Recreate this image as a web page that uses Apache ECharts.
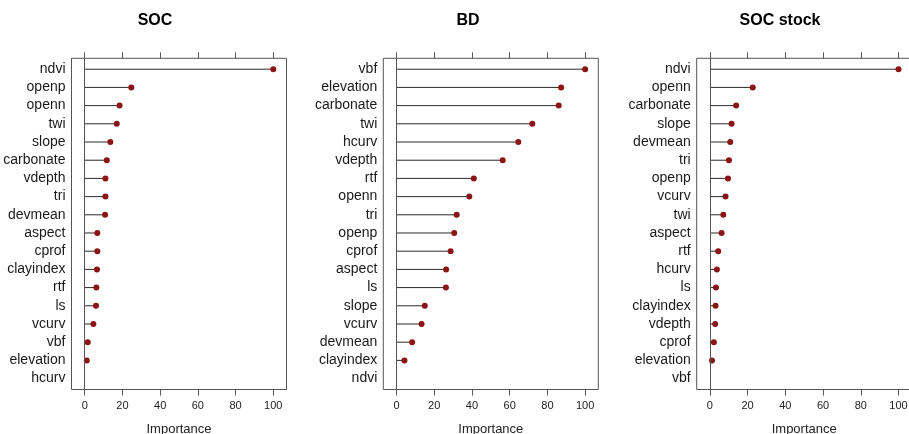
<!DOCTYPE html>
<html>
<head>
<meta charset="utf-8">
<script src="https://cdn.jsdelivr.net/npm/echarts@6/dist/echarts.min.js"></script>
<style>
html,body{margin:0;padding:0;background:#fff;}
#chart{width:909px;height:434px;}
</style>
</head>
<body>
<div id="chart"></div>
<script>
// ---- data ----
const panelTitles = ['SOC', 'BD', 'SOC stock'];
const socCats = ['ndvi','openp','openn','twi','slope','carbonate','vdepth','tri','devmean','aspect','cprof','clayindex','rtf','ls','vcurv','vbf','elevation','hcurv'];
const socVals = [100,24.7,18.5,17,13.6,11.7,11,11,10.8,6.7,6.7,6.5,6.2,6,4.6,1.6,1.1,null];
const bdCats = ['vbf','elevation','carbonate','twi','hcurv','vdepth','rtf','openn','tri','openp','cprof','aspect','ls','slope','vcurv','devmean','clayindex','ndvi'];
const bdVals = [100,87.3,86,72,64.6,56.3,41,38.6,31.9,30.6,28.7,26.3,26.2,15,13.3,8.3,4.2,null];
const stockCats = ['ndvi','openn','carbonate','slope','devmean','tri','openp','vcurv','twi','aspect','rtf','hcurv','ls','clayindex','vdepth','cprof','elevation','vbf'];
const stockVals = [100,22.7,13.9,11.5,10.8,10.1,9.6,8.3,7.1,6.2,4.4,3.7,3.2,3.0,2.8,2.1,1.1,null];
const xTicks = [0,20,40,60,80,100];
const xAxisTitle = 'Importance';

// ---- layout ----
const FONT = 'Liberation Sans, Arial, sans-serif';
const panels = [
  {cats: socCats, vals: socVals, left: 71.5, titleX: 150},
  {cats: bdCats, vals: bdVals, left: 383.3, titleX: 463},
  {cats: stockCats, vals: stockVals, left: 696.7, titleX: 775}
];
const GRID_W = 215, GRID_TOP = 58.3, GRID_H = 331.2;
const DOT_COLOR = '#8b1414';

const option = {
  animation: false,
  backgroundColor: '#fff',
  title: [], grid: [], xAxis: [], yAxis: [], series: []
};

panels.forEach((p, i) => {
  const n = p.cats.length;
  option.title.push({
    text: panelTitles[i], left: p.titleX, top: 8, textAlign: 'center',
    textStyle: {fontFamily: FONT, fontSize: 16, fontWeight: 'bold', color: '#000'}
  });
  option.grid.push({
    left: p.left, top: GRID_TOP, width: GRID_W, height: GRID_H,
    outerBoundsMode: 'none', containLabel: false,
    show: true, borderColor: '#555', borderWidth: 1, backgroundColor: 'transparent'
  });
  // bottom axis
  option.xAxis.push({
    type: 'value', gridIndex: i, position: 'bottom', min: -7, max: 107,
    name: xAxisTitle, nameLocation: 'middle', nameGap: 33,
    nameTextStyle: {fontFamily: FONT, fontSize: 13, color: '#222'},
    axisLine: {show: false, onZero: false},
    splitLine: {show: false},
    axisTick: {show: true, inside: false, length: 6, customValues: xTicks, lineStyle: {color: '#555'}},
    axisLabel: {customValues: xTicks, margin: 11, fontFamily: FONT, fontSize: 11, color: '#222'}
  });
  // top axis (ticks only)
  option.xAxis.push({
    type: 'value', gridIndex: i, position: 'top', min: -7, max: 107,
    axisLine: {show: false, onZero: false},
    splitLine: {show: false},
    axisTick: {show: true, inside: false, length: 6, customValues: xTicks, lineStyle: {color: '#555'}},
    axisLabel: {show: false}
  });
  const cats = p.cats;
  option.yAxis.push({
    type: 'value', gridIndex: i, min: -0.6, max: n - 1 + 0.6, inverse: true,
    axisLine: {show: false, onZero: false}, axisTick: {show: false}, splitLine: {show: false},
    axisLabel: {
      customValues: cats.map((c, k) => k),
      formatter: v => cats[Math.round(v)],
      margin: 6, fontFamily: FONT, fontSize: 14, color: '#1a1a1a'
    }
  });
  const pts = [];
  p.vals.forEach((v, k) => { if (v !== null) pts.push([v, k]); });
  option.series.push({
    type: 'custom', xAxisIndex: 2 * i, yAxisIndex: i, data: pts,
    renderItem: (params, api) => {
      const a = api.coord([0, api.value(1)]);
      const b = api.coord([api.value(0), api.value(1)]);
      return {type: 'line', shape: {x1: a[0], y1: a[1], x2: b[0], y2: b[1]},
              style: {stroke: '#2a2a2a', lineWidth: 1}};
    },
    z: 2
  });
  option.series.push({
    type: 'scatter', xAxisIndex: 2 * i, yAxisIndex: i, data: pts,
    symbol: 'circle', symbolSize: 6,
    itemStyle: {color: DOT_COLOR, opacity: 1},
    z: 3,
    markLine: {
      silent: true, symbol: 'none', label: {show: false},
      lineStyle: {color: '#555', width: 1, type: 'solid'},
      data: [{xAxis: 0}]
    }
  });
});

const chart = echarts.init(document.getElementById('chart'), null, {renderer: 'canvas'});
chart.setOption(option);
</script>
</body>
</html>
